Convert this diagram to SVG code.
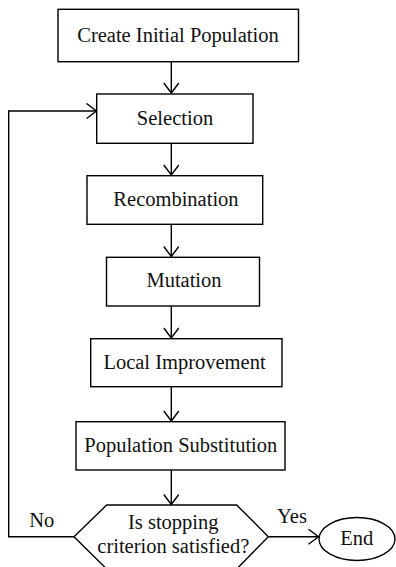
<svg xmlns="http://www.w3.org/2000/svg" width="396" height="567" viewBox="0 0 396 567">
<style>
.box{fill:#fff;stroke:#000;stroke-width:1.4}
.t{font-family:"Liberation Serif","Times New Roman",serif;font-size:20.5px;fill:#111;text-anchor:middle}
.c{fill:none;stroke:#000;stroke-width:1.4}
</style>
<defs>
<marker id="ah" viewBox="0 0 12 16" refX="11" refY="8" markerWidth="12" markerHeight="16" markerUnits="userSpaceOnUse" orient="auto">
<path d="M1,0.5 L11,8 L1,15.5" fill="none" stroke="#000" stroke-width="1.4"/>
</marker>
</defs>
<rect width="396" height="567" fill="#fff"/>
<g id="connectors">
<line class="c" x1="171.3" y1="61.7" x2="171.3" y2="93" marker-end="url(#ah)"/>
<line class="c" x1="171.3" y1="143.3" x2="171.3" y2="175" marker-end="url(#ah)"/>
<line class="c" x1="171.3" y1="224.3" x2="171.3" y2="256.5" marker-end="url(#ah)"/>
<line class="c" x1="171.3" y1="306" x2="171.3" y2="338" marker-end="url(#ah)"/>
<line class="c" x1="171.3" y1="386.7" x2="171.3" y2="421" marker-end="url(#ah)"/>
<line class="c" x1="171.3" y1="470" x2="171.3" y2="504.5" marker-end="url(#ah)"/>
<polyline class="c" points="74,536.7 8.7,536.7 8.7,111 96.5,111" marker-end="url(#ah)"/>
<line class="c" x1="268.3" y1="536.7" x2="318.5" y2="536.7" marker-end="url(#ah)"/>
<text class="t" x="41.8" y="526.7">No</text>
<text class="t" x="292" y="522.7">Yes</text>
</g>
<g id="n1"><rect class="box" x="58" y="9.3" width="240.5" height="52.4"/><text class="t" x="178" y="41.7">Create Initial Population</text></g>
<g id="n2"><rect class="box" x="96.7" y="94" width="156.3" height="49.3"/><text class="t" x="175" y="125">Selection</text></g>
<g id="n3"><rect class="box" x="87" y="175.7" width="175.7" height="48.6"/><text class="t" x="176" y="206">Recombination</text></g>
<g id="n4"><rect class="box" x="106.5" y="257.3" width="153" height="48.7"/><text class="t" x="184" y="287.3">Mutation</text></g>
<g id="n5"><rect class="box" x="90.7" y="338.7" width="191.3" height="48"/><text class="t" x="184.5" y="369.3">Local Improvement</text></g>
<g id="n6"><rect class="box" x="76" y="421.7" width="209" height="48.3"/><text class="t" x="180.8" y="451.7">Population Substitution</text></g>
<g id="n7"><polygon class="box" points="106.7,505 236.7,505 268.3,536.7 236.7,569 106.7,569 74,536.7"/><text class="t" x="173.3" y="529">Is stopping</text><text class="t" x="173.3" y="553.3">criterion satisfied?</text></g>
<g id="n8"><ellipse class="box" cx="357" cy="539" rx="38" ry="21.5"/><text class="t" x="356.7" y="545">End</text></g>
</svg>
